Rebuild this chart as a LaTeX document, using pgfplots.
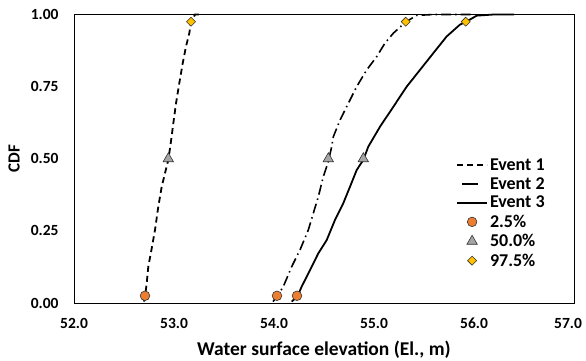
\documentclass[border=0pt]{standalone}
\usepackage{pgfplots}
\pgfplotsset{compat=1.18}
\usepackage{fontspec}
\setmainfont{Carlito}
\definecolor{corange}{HTML}{ED7D31}
\definecolor{cgray}{HTML}{A5A5A5}
\definecolor{cgold}{HTML}{FFC000}
\begin{document}
\begin{tikzpicture}
\useasboundingbox (-74pt,-58pt) rectangle (512pt,303pt);
\begin{axis}[
  scale only axis, width=500pt, height=288.5pt,
  xmin=52, xmax=57, ymin=0, ymax=1,
  xtick={52,53,54,55,56}, ytick={0,0.25,0.5,0.75,1},
  extra x ticks={57},
  extra x tick style={xticklabel style={xshift=-6pt}},
  major tick length=0pt,
  axis line style={line width=0.9pt},
  clip=false,
  /pgf/number format/assume math mode=true,
  tick label style={font=\fontsize{15.5}{18}\selectfont\bfseries},
  xticklabel style={/pgf/number format/.cd,fixed,fixed zerofill,precision=1,/tikz/.cd,anchor=center,yshift=-20pt},
  yticklabel style={/pgf/number format/.cd,fixed,fixed zerofill,precision=2,/tikz/.cd,anchor=east,xshift=-12pt},
  xlabel={Water surface elevation (El., m)},
  ylabel={CDF},
  xlabel style={font=\fontsize{19.5}{23}\selectfont\bfseries,at={(axis description cs:0.5,-0.163)},anchor=center},
  ylabel style={font=\fontsize{17}{20}\selectfont\bfseries,at={(axis description cs:-0.12,0.5)},anchor=center},
  legend style={at={(axis description cs:0.758,0.515)},anchor=north west,draw=none,fill=none,
    font=\fontsize{18}{20}\selectfont\bfseries,row sep=1.5pt},
  legend cell align=left,
  legend image code/.code={\draw[mark repeat=2,mark phase=2,#1] plot coordinates {(0pt,0pt)(15pt,0pt)(30pt,0pt)};},
]
\addplot[black,line width=1.8pt,dash pattern=on 6pt off 4pt] coordinates {
(52.70,0.005)(52.71,0.022)(52.727,0.068)(52.743,0.126)(52.777,0.189)(52.81,0.253)(52.843,0.334)(52.877,0.403)(52.91,0.45)(52.943,0.496)(52.967,0.553)(52.993,0.622)(53.02,0.692)(53.053,0.762)(53.087,0.831)(53.12,0.889)(53.153,0.935)(53.17,0.972)(53.21,1.0)(53.25,1.0)};
\addlegendentry{Event 1}
\addplot[black,line width=1.6pt,dash pattern=on 10pt off 4pt on 1.5pt off 4pt,
  legend image post style={dash pattern=on 16pt off 20pt,dash phase=31pt}] coordinates {
(53.99,0.005)(54.03,0.022)(54.093,0.057)(54.177,0.126)(54.26,0.184)(54.343,0.253)(54.393,0.311)(54.443,0.368)(54.493,0.438)(54.543,0.49)(54.577,0.542)(54.593,0.576)(54.66,0.634)(54.743,0.692)(54.827,0.75)(54.927,0.808)(55.027,0.854)(55.11,0.901)(55.193,0.935)(55.317,0.974)(55.427,0.997)(55.6,1.0)(56.0,1.0)};
\addlegendentry{Event 2}
\addplot[black,line width=1.8pt] coordinates {
(54.177,0.005)(54.233,0.022)(54.277,0.057)(54.36,0.114)(54.443,0.172)(54.527,0.218)(54.61,0.288)(54.693,0.346)(54.76,0.403)(54.827,0.461)(54.893,0.496)(54.943,0.542)(55.06,0.611)(55.193,0.68)(55.327,0.75)(55.46,0.808)(55.593,0.866)(55.727,0.924)(55.86,0.965)(55.917,0.974)(56.027,0.996)(56.2,1.0)(56.4,1.0)};
\addlegendentry{Event 3}
\addplot[only marks,mark=*,mark size=4.8pt,mark options={fill=corange,draw=black!80,line width=0.6pt}] coordinates {
(52.71,0.025)(54.03,0.025)(54.23,0.025)};
\addlegendentry{2.5\%}
\addplot[only marks,mark=triangle*,mark size=6pt,mark options={fill=cgray,draw=black!80,line width=0.6pt}] coordinates {
(52.943,0.5)(54.543,0.5)(54.893,0.5)};
\addlegendentry{50.0\%}
\addplot[only marks,mark=square*,mark size=3.2pt,mark options={rotate=45,fill=cgold,draw=black!80,line width=0.6pt}] coordinates {
(53.17,0.975)(55.317,0.975)(55.917,0.975)};
\addlegendentry{97.5\%}
\end{axis}
\end{tikzpicture}
\end{document}
